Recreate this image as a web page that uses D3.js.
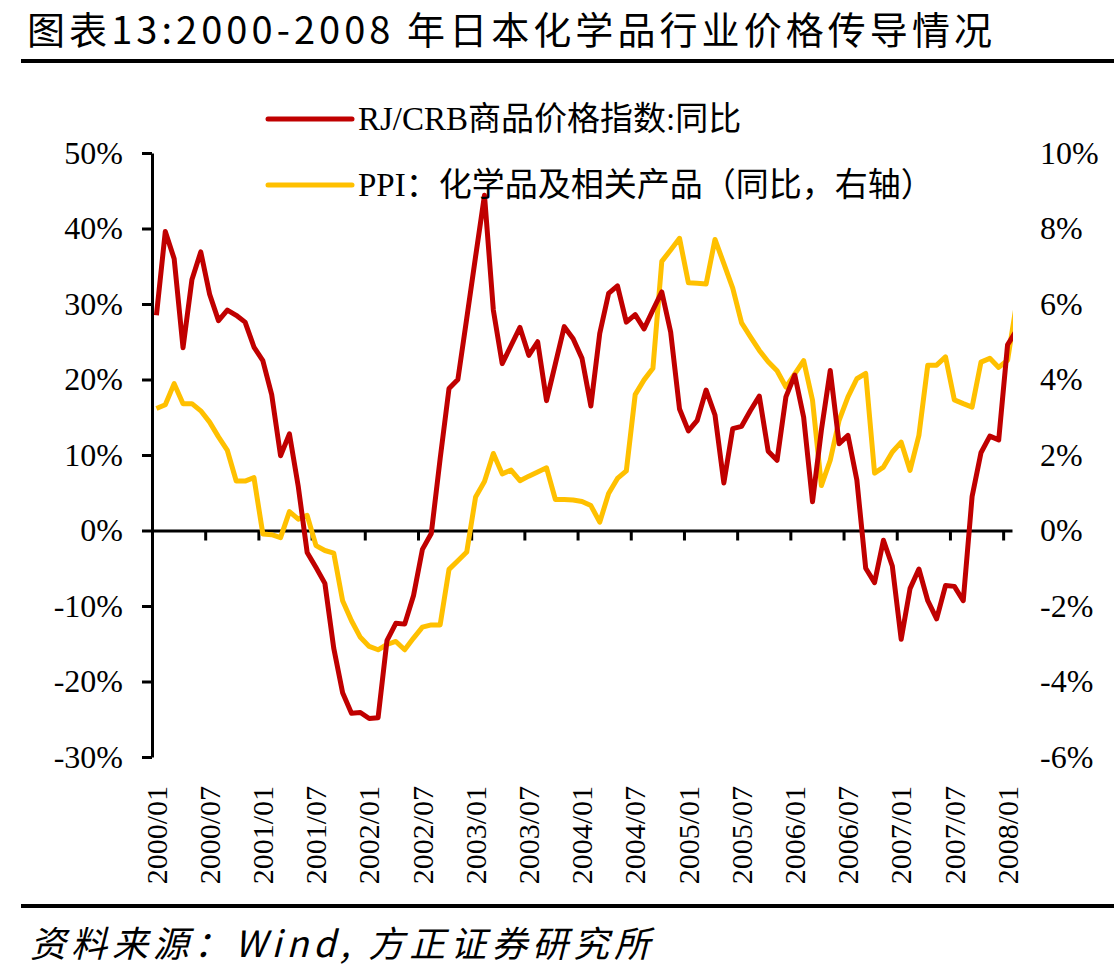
<!DOCTYPE html>
<html>
<head>
<meta charset="utf-8">
<script src="https://cdn.jsdelivr.net/npm/d3@7/dist/d3.min.js"></script>
<style>
  body { margin: 0; background: #fff; }
  svg text { fill: #000; }
</style>
</head>
<body>
<svg id="chart"></svg>
<script>
// monthly categories, 2000/01 .. 2008/02
var months = d3.range(98).map(function (i) {
    return (2000 + Math.floor(i / 12)) + "/" + String(i % 12 + 1).padStart(2, "0");
});

var tickLabels = ["2000/01", "2000/07", "2001/01", "2001/07", "2002/01", "2002/07",
    "2003/01", "2003/07", "2004/01", "2004/07", "2005/01", "2005/07",
    "2006/01", "2006/07", "2007/01", "2007/07", "2008/01"];

// RJ/CRB commodity index, yoy % (left axis)
var rjcrb = [28.5, 39.6, 36.0, 24.2, 33.2, 36.9, 31.3, 27.8, 29.2, 28.5,
    27.6, 24.3, 22.5, 18.0, 9.9, 12.8, 5.8, -2.9, -4.9, -7.0,
    -15.6, -21.5, -24.2, -24.1, -24.9, -24.8, -14.6, -12.3, -12.4, -8.6,
    -2.5, -0.4, 9.5, 18.8, 20.0, 28.1, 36.3, 44.4, 29.2, 22.1,
    24.5, 26.9, 23.2, 25.0, 17.2, 22.1, 27.0, 25.4, 22.8, 16.5,
    26.1, 31.4, 32.4, 27.6, 28.6, 26.7, 29.2, 31.6, 26.3, 16.1,
    13.2, 14.6, 18.6, 15.3, 6.3, 13.5, 13.8, 15.9, 17.8, 10.5,
    9.3, 17.7, 20.6, 15.0, 3.8, 13.3, 21.2, 11.5, 12.6, 6.7,
    -5.0, -6.9, -1.3, -4.7, -14.4, -7.7, -5.1, -9.3, -11.7, -7.3,
    -7.4, -9.3, 4.5, 10.3, 12.5, 12.0, 24.6, 26.5];

// PPI chemicals & related products, yoy % (right axis)
var ppi = [3.23, 3.33, 3.89, 3.36, 3.36, 3.17, 2.87, 2.48, 2.12, 1.31,
    1.31, 1.40, -0.09, -0.11, -0.19, 0.50, 0.30, 0.40, -0.40, -0.53,
    -0.60, -1.86, -2.39, -2.83, -3.07, -3.16, -3.02, -2.94, -3.16, -2.85,
    -2.56, -2.50, -2.50, -1.03, -0.80, -0.57, 0.89, 1.30, 2.04, 1.50,
    1.60, 1.32, 1.44, 1.55, 1.66, 0.82, 0.82, 0.81, 0.77, 0.66,
    0.22, 0.98, 1.38, 1.58, 3.60, 3.99, 4.30, 7.13, 7.43, 7.74,
    6.56, 6.55, 6.53, 7.71, 7.07, 6.42, 5.50, 5.13, 4.77, 4.47,
    4.23, 3.80, 4.15, 4.50, 3.45, 1.19, 1.86, 2.92, 3.54, 4.02,
    4.16, 1.52, 1.68, 2.08, 2.34, 1.59, 2.52, 4.38, 4.38, 4.60,
    3.46, 3.36, 3.27, 4.46, 4.56, 4.32, 4.51, 6.0];

var leftTicks = [-30, -20, -10, 0, 10, 20, 30, 40, 50];
var rightTicks = [-6, -4, -2, 0, 2, 4, 6, 8, 10];

var seriesNames = ["RJ/CRB商品价格指数:同比", "PPI：化学品及相关产品（同比，右轴）"];
var colors = ["#C00000", "#FFC000"];

function drawChart() {
    var width = 1114, height = 980;
    var plotLeft = 152, plotRight = 1012, plotTop = 153, plotBottom = 757;
    var serif = "'Liberation Serif', 'Times New Roman', 'Noto Sans CJK SC', serif";
    var sans = "'Noto Sans CJK SC', sans-serif";

    var svg = d3.select("#chart")
        .attr("width", width)
        .attr("height", height)
        .style("display", "block");

    // title + rules
    svg.append("text")
        .attr("x", 27)
        .attr("y", 44)
        .attr("font-family", sans)
        .attr("font-size", 38)
        .attr("textLength", 965)
        .attr("lengthAdjust", "spacing")
        .text("图表13:2000-2008 年日本化学品行业价格传导情况");

    svg.append("line")
        .attr("x1", 21).attr("x2", width)
        .attr("y1", 61).attr("y2", 61)
        .attr("stroke", "#000").attr("stroke-width", 4);

    svg.append("line")
        .attr("x1", 21).attr("x2", width)
        .attr("y1", 906).attr("y2", 906)
        .attr("stroke", "#000").attr("stroke-width", 4);

    svg.append("text")
        .attr("x", 30)
        .attr("y", 957)
        .attr("font-family", sans)
        .attr("font-size", 36)
        .attr("font-style", "italic")
        .attr("textLength", 620)
        .attr("lengthAdjust", "spacing")
        .text("资料来源：Wind, 方正证券研究所");

    // scales
    var x = d3.scaleLinear().domain([0, 97]).range([plotLeft, plotRight]);
    var yL = d3.scaleLinear().domain([-30, 50]).range([plotBottom, plotTop]);
    var yR = d3.scaleLinear().domain([-6, 10]).range([plotBottom, plotTop]);

    // clip the lines to the plot area
    svg.append("clipPath")
        .attr("id", "plotclip")
        .append("rect")
        .attr("x", plotLeft).attr("y", 0)
        .attr("width", plotRight - plotLeft + 1).attr("height", height);

    // left axis
    var gL = svg.append("g")
        .attr("transform", "translate(" + plotLeft + ",0)")
        .call(d3.axisLeft(yL)
            .tickValues(leftTicks)
            .tickSize(10)
            .tickSizeOuter(0)
            .tickPadding(19)
            .tickFormat(function (d) { return d + "%"; }));

    // right axis (labels only)
    var gR = svg.append("g")
        .attr("transform", "translate(" + plotRight + ",0)")
        .call(d3.axisRight(yR)
            .tickValues(rightTicks)
            .tickSize(0)
            .tickPadding(28)
            .tickFormat(function (d) { return d + "%"; }));
    gR.select(".domain").remove();

    // bottom axis at 0
    var gX = svg.append("g")
        .attr("transform", "translate(0," + yL(0) + ")")
        .call(d3.axisBottom(x)
            .tickValues(d3.range(6, 97, 6))
            .tickSize(10)
            .tickSizeOuter(0)
            .tickFormat(""));

    [gL, gR, gX].forEach(function (g) {
        g.select(".domain").attr("stroke", "#000").attr("stroke-width", 3);
        g.selectAll(".tick line").attr("stroke", "#000").attr("stroke-width", 3);
        g.selectAll("text")
            .attr("font-family", serif)
            .attr("font-size", 32)
            .attr("fill", "#000");
    });

    // rotated month labels
    svg.append("g")
        .selectAll("text")
        .data(tickLabels)
        .enter()
        .append("text")
        .attr("transform", function (d, i) {
            return "translate(" + x(i * 6 + 0.5) + ",786) rotate(-90)";
        })
        .attr("text-anchor", "end")
        .attr("dy", "0.34em")
        .attr("font-family", serif)
        .attr("font-size", 30)
        .text(function (d) { return d; });

    // lines
    var lineL = d3.line()
        .x(function (d, i) { return x(i + 0.5); })
        .y(function (d) { return yL(d); });

    var lineR = d3.line()
        .x(function (d, i) { return x(i + 0.5); })
        .y(function (d) { return yR(d); });

    var plot = svg.append("g").attr("clip-path", "url(#plotclip)");

    plot.append("path")
        .datum(ppi)
        .attr("d", lineR)
        .attr("fill", "none")
        .attr("stroke", colors[1])
        .attr("stroke-width", 5)
        .attr("stroke-linejoin", "round");

    plot.append("path")
        .datum(rjcrb)
        .attr("d", lineL)
        .attr("fill", "none")
        .attr("stroke", colors[0])
        .attr("stroke-width", 5)
        .attr("stroke-linejoin", "round");

    // legend
    var legend = svg.append("g")
        .selectAll("g")
        .data(seriesNames)
        .enter()
        .append("g")
        .attr("transform", function (d, i) { return "translate(268," + (119 + i * 66) + ")"; });

    legend.append("line")
        .attr("x1", 0).attr("x2", 84)
        .attr("stroke", function (d, i) { return colors[i]; })
        .attr("stroke-width", 5)
        .attr("stroke-linecap", "round");

    legend.append("text")
        .attr("x", 90)
        .attr("y", 11)
        .attr("font-family", serif)
        .attr("font-size", 33)
        .text(function (d) { return d; });
}

drawChart();
</script>
</body>
</html>
